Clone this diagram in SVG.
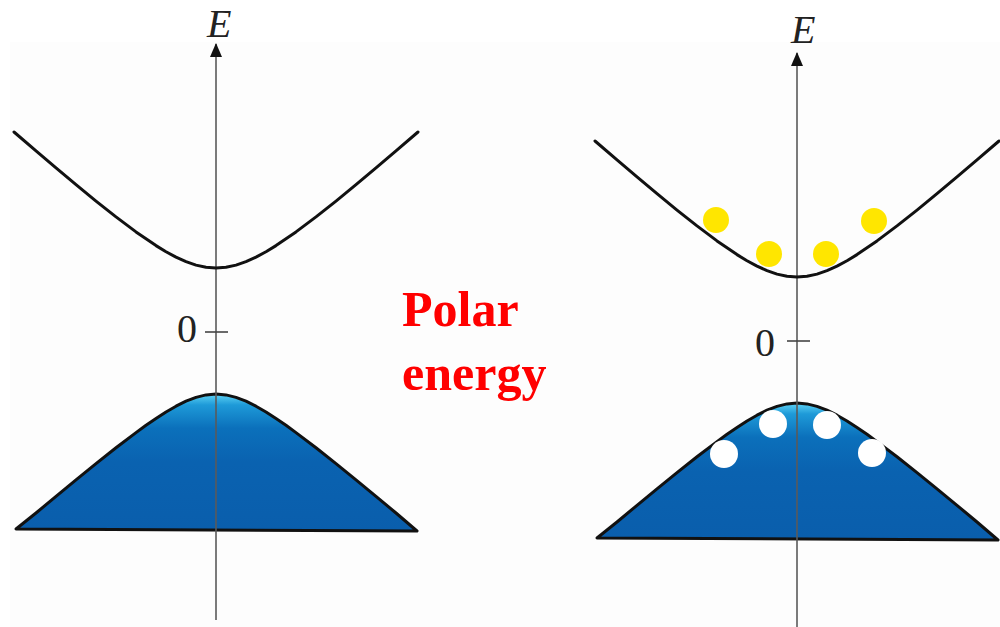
<svg xmlns="http://www.w3.org/2000/svg" width="1000" height="627" viewBox="0 0 1000 627">
  <defs>
    <style>
      .axis { stroke: #5a5a5a; stroke-width: 1.6; fill: none; }
      .tick { stroke: #444; stroke-width: 1.6; fill: none; }
      .band { stroke: #111; stroke-width: 3; fill: none; stroke-linejoin: round; stroke-linecap: round; }
      .valence { stroke: #111; stroke-width: 3; fill: url(#blueGrad); stroke-linejoin: round; }
      .lbl { font-family: "Liberation Serif", "Times New Roman", serif; fill: #222; }
      .elbl { font-family: "Liberation Serif", "Times New Roman", serif; font-style: italic; font-size: 40px; fill: #222; }
      .polar { font-family: "Liberation Serif", "Times New Roman", serif; font-weight: bold; font-size: 50px; fill: #ff0000; }
      .electron { fill: #ffe600; }
      .hole { fill: #ffffff; }
    </style>
    <linearGradient id="blueGrad" x1="0" y1="0" x2="0" y2="1">
      <stop offset="0" stop-color="#5fd3f5"/>
      <stop offset="0.08" stop-color="#1e9ad8"/>
      <stop offset="0.25" stop-color="#0b70bb"/>
      <stop offset="0.5" stop-color="#0a62b0"/>
      <stop offset="1" stop-color="#0a5eac"/>
    </linearGradient>
    <marker id="arrow" markerUnits="userSpaceOnUse" viewBox="0 0 14 12" markerWidth="14" markerHeight="12" refX="13" refY="6" orient="auto">
      <path d="M0,0 L14,6 L0,12 z" fill="#111"/>
    </marker>
    <path id="cond" d="M14,132 L36,150.9 L56,167.9 L76,184.7 L96,201.1 L116,216.9 L136,231.9 L156,245.6 L166,251.7 L176,257.1 L186,261.6 L196,265.1 L206,267.3 L216,268 L226,267.3 L236,265.1 L246,261.6 L256,257.1 L266,251.7 L276,245.6 L296,231.9 L316,216.9 L336,201.1 L356,184.7 L376,167.9 L396,150.9 L418,132"/>
    <path id="val" d="M16,529 L36,513 L56,496.3 L76,479.8 L96,463.6 L116,447.8 L136,432.6 L146,425.3 L156,418.5 L166,412 L176,406.2 L186,401.2 L196,397.4 L206,394.9 L216,394 L226,394.9 L236,397.4 L246,401.2 L256,406.2 L266,412 L276,418.5 L286,425.3 L296,432.6 L316,447.8 L336,463.6 L356,479.8 L376,496.3 L396,513 L417,531 Z"/>
  </defs>

  <rect x="0" y="0" width="1000" height="627" fill="#ffffff"/>
  <rect x="10" y="42" width="990" height="585" fill="#fdfdfd"/>

  <g id="left-panel">
    <use href="#val" class="valence"/>
    <line class="axis" x1="216" y1="620" x2="216" y2="44" marker-end="url(#arrow)"/>
    <use href="#cond" class="band"/>
    <line class="tick" x1="205" y1="332" x2="228" y2="332"/>
    <text class="lbl" x="177" y="342" font-size="40">0</text>
    <text class="elbl" x="207" y="37">E</text>
  </g>

  <g id="right-panel">
    <use href="#val" class="valence" transform="translate(581,9)"/>
    <line class="axis" x1="797" y1="627" x2="797" y2="53" marker-end="url(#arrow)"/>
    <use href="#cond" class="band" transform="translate(581,9)"/>
    <line class="tick" x1="787" y1="341" x2="810" y2="341"/>
    <text class="lbl" x="755" y="356" font-size="40">0</text>
    <text class="elbl" x="791" y="43">E</text>
    <g id="electrons">
      <circle class="electron" cx="716" cy="220" r="13"/>
      <circle class="electron" cx="769" cy="254" r="13"/>
      <circle class="electron" cx="826" cy="254" r="13"/>
      <circle class="electron" cx="874" cy="221" r="13"/>
    </g>
    <g id="holes">
      <circle class="hole" cx="724" cy="454" r="14"/>
      <circle class="hole" cx="773" cy="424" r="14"/>
      <circle class="hole" cx="827" cy="425" r="14"/>
      <circle class="hole" cx="872" cy="453" r="14"/>
    </g>
  </g>

  <g id="label">
    <text class="polar" x="402" y="326">Polar</text>
    <text class="polar" x="402" y="390">energy</text>
  </g>
</svg>
